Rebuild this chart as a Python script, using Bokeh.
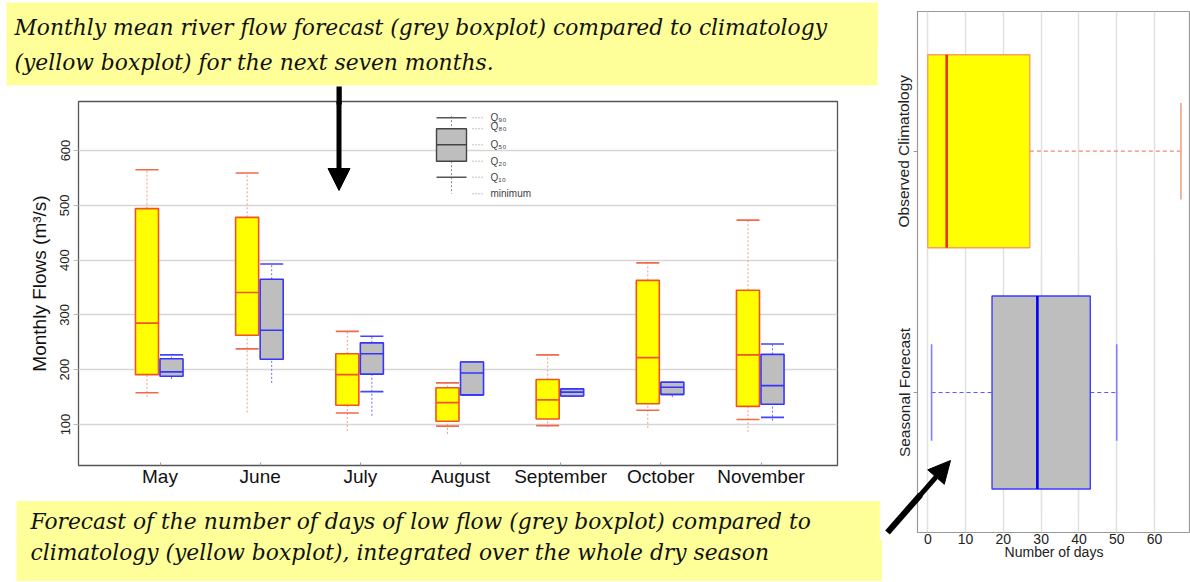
import math
from bokeh.plotting import figure
from bokeh.models import Range1d, Label, Arrow, NormalHead
from bokeh.layouts import row, column
from bokeh.embed import file_html
from bokeh.resources import INLINE
from bokeh.core.properties import value

# ------------------------------------------------------------------ data
months = ["May", "June", "July", "August", "September", "October", "November"]

# climatology (yellow boxes), monthly mean flow m3/s
clim_min = [150, 122, 88, 83, 95, 94, 86]
clim_q10 = [158, 238, 121, 97, 98, 126, 109]
clim_q20 = [191, 263, 135, 106, 110, 138, 133]
clim_q50 = [285, 341, 191, 140, 145, 222, 227]
clim_q80 = [494, 478, 229, 167, 182, 363, 345]
clim_q90 = [565, 559, 270, 176, 227, 395, 473]

# forecast (grey boxes)
fc_min = [183, 176, 116, 153, 150, 150, 107]
fc_q10 = [188, 219, 160, 154, 152, 155, 113]
fc_q20 = [188, 219, 192, 154, 152, 155, 137]
fc_q50 = [196, 272, 229, 194, 159, 168, 171]
fc_q80 = [220, 365, 249, 214, 165, 177, 228]
fc_q90 = [227, 393, 261, 214, 165, 177, 247]

flow_ticks = [100, 200, 300, 400, 500, 600]
legend_labels = ["Q\u2089\u2080", "Q\u2088\u2080", "Q\u2085\u2080", "Q\u2082\u2080", "Q\u2081\u2080", "minimum"]

# number of days of low flow
days_categories = ["Seasonal Forecast", "Observed Climatology"]
days_min = [1, 0]
days_q25 = [17, 0]
days_med = [29, 5]
days_q75 = [43, 27]
days_max = [50, 67]
days_ticks = [0, 10, 20, 30, 40, 50, 60]

top_text = ["Monthly mean river flow forecast (grey boxplot) compared to climatology",
            "(yellow boxplot) for the next seven months."]
bottom_text = ["Forecast of the number of days of low flow (grey boxplot) compared to",
               "climatology (yellow boxplot), integrated over the whole dry season"]

# ------------------------------------------------------------------ layout (pixel positions)
W, H = 1190, 582
W1 = 882
W2 = W - W1
FONT = "Liberation Sans"
NOTE_FONT = "DejaVu Serif"
NOTE_SIZE = 21.8
NOTE_BG = "#ffff99"
ASC, DESC = 20.3, 6.1          # approximate font ascent / descent of the note font (px)


def rect_label(p, side, xf, yf, left, top, w, h, color, angle=0.0, baseline="top"):
    """Plain filled rectangle drawn as an (empty) label background, outside the frame."""
    if baseline == "top":
        pad = dict(left=0, right=int(w), top=0, bottom=int(h))
    else:
        pad = dict(left=0, right=int(w), top=int(h // 2), bottom=int(h - h // 2))
    p.add_layout(Label(x=xf(left), y=yf(top), text=" ", text_font_size="1px",
                       text_align="left", text_baseline=baseline, angle=angle,
                       background_fill_color=color, background_fill_alpha=1.0,
                       border_line_color=None, padding=pad), side)


def note_line(p, side, xf, yf, txt, text_x, base_y, bg_left, bg_top, bg_right, bg_bottom, text_w):
    """One line of a yellow note; its padded background paints a slice of the note box."""
    anchor_y = bg_top + ASC
    pt = max(0, int(round(base_y - anchor_y)))
    anchor_y = base_y - pt
    pb = max(0, int(round(bg_bottom - base_y - DESC)))
    pl = int(round(text_x - bg_left))
    pr = max(0, int(round(bg_right - text_x - text_w)))
    p.add_layout(Label(x=xf(bg_left), y=yf(anchor_y), text=txt, text_font=NOTE_FONT,
                       text_font_style="italic", text_font_size="%.1fpx" % NOTE_SIZE,
                       text_color="#111111", text_baseline="alphabetic", text_align="left",
                       background_fill_color=NOTE_BG, background_fill_alpha=1.0,
                       border_line_color=None,
                       padding=dict(left=pl, right=pr, top=pt, bottom=pb)), side)


# ------------------------------------------------------------------ left figure
fl, fr, ft, fb = 78, 837, 101, 465
a1, a7 = 159.5, 760.5
ppx = (a7 - a1) / 6.0
xs, xe = 1 + (fl - a1) / ppx, 1 + (fr - a1) / ppx
b600, b100 = 150.0, 424.0
ppy = (b100 - b600) / 500.0
ye, ys = 600 + (b600 - ft) / ppy, 100 - (fb - b100) / ppy


def lx(c):
    return xs + (c - fl) / ppx


def ly(c):
    return ye - (c - ft) / ppy


p1 = figure(width=W1, height=H, x_range=Range1d(xs, xe), y_range=Range1d(ys, ye),
            output_backend="svg", toolbar_location=None,
            min_border_left=fl, min_border_right=W1 - fr,
            min_border_top=ft, min_border_bottom=H - fb)
p1.outline_line_color = "#555555"
p1.outline_line_width = 1.3
p1.xgrid.visible = False
p1.ygrid.ticker = flow_ticks
p1.ygrid.grid_line_color = "#d6d6d6"
p1.ygrid.grid_line_width = 1.5

p1.xaxis.ticker = list(range(1, len(months) + 1))
p1.xaxis.major_label_overrides = {i + 1: m for i, m in enumerate(months)}
p1.xaxis.major_label_text_font = FONT
p1.xaxis.major_label_text_font_size = "19px"
p1.xaxis.major_label_text_color = "#111111"
p1.xaxis.axis_line_color = None
p1.xaxis.major_tick_in = 3
p1.xaxis.major_tick_out = 0
p1.xaxis.major_tick_line_color = "#999999"
p1.xaxis.minor_tick_line_color = None
p1.xaxis.major_label_standoff = 0

p1.yaxis.ticker = flow_ticks
p1.yaxis.major_label_orientation = "vertical"
p1.yaxis.major_label_text_font = FONT
p1.yaxis.major_label_text_font_size = "13px"
p1.yaxis.major_label_text_color = "#222222"
p1.yaxis.axis_line_color = None
p1.yaxis.major_tick_in = 0
p1.yaxis.major_tick_out = 5
p1.yaxis.major_tick_line_color = "#bbbbbb"
p1.yaxis.minor_tick_line_color = None
p1.yaxis.major_label_standoff = 4
p1.yaxis.axis_label = "Monthly Flows (m\u00b3/s)"
p1.yaxis.axis_label_text_font = FONT
p1.yaxis.axis_label_text_font_style = "normal"
p1.yaxis.axis_label_text_font_size = "19px"
p1.yaxis.axis_label_text_color = "#111111"
p1.yaxis.axis_label_standoff = 8

mx = list(range(1, len(months) + 1))
BW = 0.23
yx = [m - 0.13 for m in mx]
gx = [m + 0.115 for m in mx]


def draw_boxes(p, xpos, qmin, q10, q20, q50, q80, q90, fill, edge, whisk, cap, med):
    half = BW / 2
    p.segment(x0=xpos, x1=xpos, y0=q80, y1=q90, line_color=whisk, line_width=1, line_dash="2 2")
    p.segment(x0=xpos, x1=xpos, y0=qmin, y1=q20, line_color=whisk, line_width=1, line_dash="2 2")
    p.segment(x0=[x - half for x in xpos], x1=[x + half for x in xpos], y0=q90, y1=q90,
              line_color=cap, line_width=1.6)
    p.segment(x0=[x - half for x in xpos], x1=[x + half for x in xpos], y0=q10, y1=q10,
              line_color=cap, line_width=1.6)
    p.vbar(x=xpos, width=BW, bottom=q20, top=q80, fill_color=fill, line_color=edge, line_width=1.6)
    p.segment(x0=[x - half for x in xpos], x1=[x + half for x in xpos], y0=q50, y1=q50,
              line_color=med, line_width=1.6)


draw_boxes(p1, yx, clim_min, clim_q10, clim_q20, clim_q50, clim_q80, clim_q90,
           "#ffff00", "#f2541e", "#f39a84", "#ef6a48", "#f0542a")
draw_boxes(p1, gx, fc_min, fc_q10, fc_q20, fc_q50, fc_q80, fc_q90,
           "#bebebe", "#3535ff", "#6b6bff", "#4545ff", "#3535ff")

# legend (explanation box) drawn inside the plot
LX = lx(451)
LW = lx(466) - lx(436)
leg_y = [ly(v) for v in (117.3, 128.3, 144.3, 160.7, 176.7, 193.3)]
p1.segment(x0=[LX, LX], x1=[LX, LX], y0=[leg_y[0] + 3, leg_y[3]], y1=[leg_y[1], leg_y[5]],
           line_color="#8a8a8a", line_width=1, line_dash="2 2")
p1.segment(x0=[LX - LW / 2] * 2, x1=[LX + LW / 2] * 2, y0=[leg_y[0], leg_y[4]], y1=[leg_y[0], leg_y[4]],
           line_color="#555555", line_width=1.4)
p1.vbar(x=[LX], width=LW, bottom=[leg_y[3]], top=[leg_y[1]], fill_color="#bebebe",
        line_color="#444444", line_width=1.4)
p1.segment(x0=[LX - LW / 2], x1=[LX + LW / 2], y0=[leg_y[2]], y1=[leg_y[2]],
           line_color="#444444", line_width=1.4)
lead0, lead1 = lx(472), lx(482)
p1.segment(x0=[lead0] * 6, x1=[lead1] * 6, y0=leg_y, y1=leg_y,
           line_color="#888888", line_width=1, line_dash="1 2")
lab_y = list(leg_y)
lab_y[1] = ly(126)
p1.text(x=[lx(490)] * 6, y=lab_y, text=legend_labels, text_font=value(FONT),
        text_font_size="10px", text_color="#444444", text_baseline="middle")

# yellow note boxes (side panels are not clipped to the frame)
k = NOTE_SIZE / 21.5
note_line(p1, "above", lx, ly, top_text[0], 14, 37, 6, 5, 878, 52, 802 * k)
note_line(p1, "above", lx, ly, top_text[1], 14, 68, 6, 46, 878, 85, 473 * k)
note_line(p1, "below", lx, ly, bottom_text[0], 30, 530, 16, 502, 880, 546, 770 * k)
note_line(p1, "below", lx, ly, bottom_text[1], 30, 560, 16, 540, 880, 582, 727 * k)

# top arrow: shaft part above the frame + arrow inside the frame
rect_label(p1, "right", lx, ly, 336, 86, 5, 17, "#000000")
p1.add_layout(Arrow(x_start=lx(338.5), y_start=ly(86), x_end=lx(338.5), y_end=ly(190),
                    line_color="black", line_width=5,
                    end=NormalHead(size=22, fill_color="black", line_color="black")))

# ------------------------------------------------------------------ right figure
r_fl = 917 - W1
r_fr = W2
r_ft = 11
r_fb = 532
c0, c60 = 927.3 - W1, 1154.0 - W1
rpx = (c60 - c0) / 60.0
rxs, rxe = (r_fl - c0) / rpx, (r_fr - c0) / rpx
k2, k1 = 150.7, 392.0
rpy = k1 - k2
rye, rys = 2 + (k2 - r_ft) / rpy, 1 - (r_fb - k1) / rpy


def rx_(c):
    return rxs + (c - r_fl) / rpx


def ry_(c):
    return rye - (c - r_ft) / rpy


p2 = figure(width=W2, height=H, x_range=Range1d(rxs, rxe), y_range=Range1d(rys, rye),
            output_backend="svg", toolbar_location=None,
            min_border_left=r_fl, min_border_right=0,
            min_border_top=r_ft, min_border_bottom=H - r_fb)
p2.outline_line_color = "#999999"
p2.outline_line_width = 1.2
p2.ygrid.visible = False
p2.xgrid.ticker = days_ticks + [70]
p2.xgrid.grid_line_color = "#e0e0e0"
p2.xgrid.grid_line_width = 1.5

p2.xaxis.ticker = days_ticks
p2.xaxis.major_label_text_font = FONT
p2.xaxis.major_label_text_font_size = "14px"
p2.xaxis.major_label_text_color = "#222222"
p2.xaxis.axis_line_color = None
p2.xaxis.major_tick_in = 0
p2.xaxis.major_tick_out = 0
p2.xaxis.minor_tick_line_color = None
p2.xaxis.major_label_standoff = 1
p2.xaxis.axis_label = "Number of days"
p2.xaxis.axis_label_text_font = FONT
p2.xaxis.axis_label_text_font_style = "normal"
p2.xaxis.axis_label_text_font_size = "14px"
p2.xaxis.axis_label_text_color = "#222222"
p2.xaxis.axis_label_standoff = -3

p2.yaxis.ticker = [1, 2]
p2.yaxis.major_label_overrides = {1: days_categories[0], 2: days_categories[1]}
p2.yaxis.major_label_orientation = "vertical"
p2.yaxis.major_label_text_font = FONT
p2.yaxis.major_label_text_font_size = "15.5px"
p2.yaxis.major_label_text_color = "#222222"
p2.yaxis.axis_line_color = None
p2.yaxis.major_tick_in = 0
p2.yaxis.major_tick_out = 4
p2.yaxis.major_tick_line_color = "#999999"
p2.yaxis.minor_tick_line_color = None
p2.yaxis.major_label_standoff = 1

cat_y = [1, 2]
edge_cols = ["#3c3cff", "#f4a25a"]
med_cols = ["#0000ff", "#e8321e"]
whisk_cols = ["#5a5aff", "#f08a6c"]
cap_cols = ["#8080ff", "#f4a286"]
fills = ["#bebebe", "#ffff00"]
p2.segment(x0=days_min, x1=days_q25, y0=cat_y, y1=cat_y, line_color=whisk_cols, line_width=1.2, line_dash="4 3")
p2.segment(x0=days_q75, x1=days_max, y0=cat_y, y1=cat_y, line_color=whisk_cols, line_width=1.2, line_dash="4 3")
p2.segment(x0=days_max, x1=days_max, y0=[c - 0.2 for c in cat_y], y1=[c + 0.2 for c in cat_y],
           line_color=cap_cols, line_width=1.6)
p2.segment(x0=[days_min[0]], x1=[days_min[0]], y0=[cat_y[0] - 0.2], y1=[cat_y[0] + 0.2],
           line_color=cap_cols[0], line_width=1.6)
p2.hbar(y=cat_y, height=0.8, left=days_q25, right=days_q75, fill_color=fills,
        line_color=edge_cols, line_width=1.4)
p2.segment(x0=days_med, x1=days_med, y0=[c - 0.4 for c in cat_y], y1=[c + 0.4 for c in cat_y],
           line_color=med_cols, line_width=2.6)

# bottom arrow: shaft part left of the frame + arrow inside the frame
tx, ty, hx, hy = 887 - W1, 532.0, 950 - W1, 460.0
ang = math.atan2(ty - hy, hx - tx)
rect_label(p2, "below", rx_, ry_, tx, ty, 50, 5, "#000000", angle=ang, baseline="middle")
p2.add_layout(Arrow(x_start=rx_(tx), y_start=ry_(ty), x_end=rx_(hx), y_end=ry_(hy),
                    line_color="black", line_width=5,
                    end=NormalHead(size=22, fill_color="black", line_color="black")))

layout = row(column(p1), column(p2))
open("out.html", "w").write(file_html(layout, INLINE))
